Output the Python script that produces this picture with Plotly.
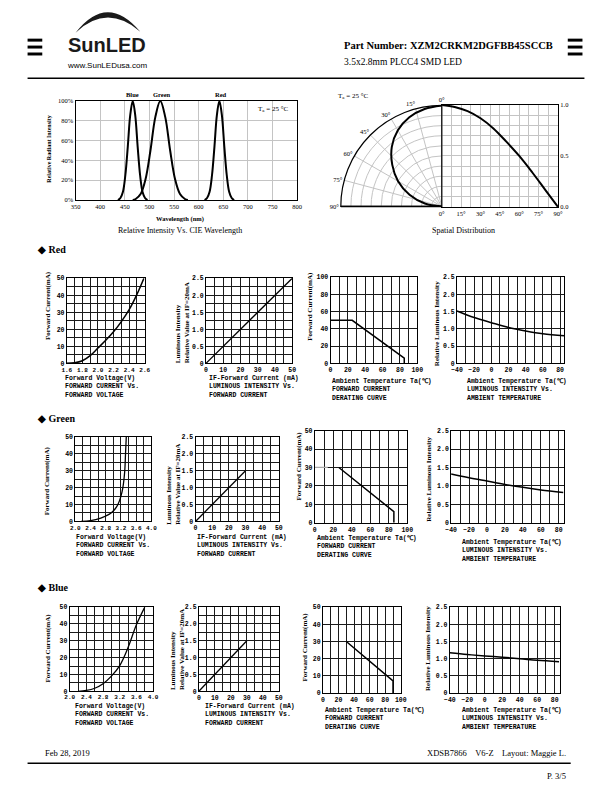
import plotly.graph_objects as go

W, H = 612, 792
def fx(p): return p / W
def fy(p): return 1 - p / H

SERIF = "Liberation Serif"
MONO = "Liberation Mono"
SANS = "Liberation Sans"

# ---------------- data ----------------
# Spectrum (relative radiant intensity, %)
wl_blue = [436, 441, 446, 451, 456, 461, 466, 471, 476, 481, 486, 491, 496]
int_blue = [0, 2, 8, 25, 54, 86, 100, 86, 54, 25, 8, 2, 0]
wl_green = [466, 472, 482, 492, 502, 512, 522, 532, 542, 552, 562, 572, 578]
int_green = [0, 1, 6, 21, 50, 84, 100, 84, 50, 21, 6, 1, 0]
wl_red = [612, 617, 622, 627, 632, 637, 642, 647, 652, 657, 662, 667, 672]
int_red = [0, 2, 8, 25, 54, 86, 100, 86, 54, 25, 8, 2, 0]

# Spatial distribution
sp_angle = [0, 10, 20, 30, 40, 50, 60, 70, 80, 90]
sp_int = [1.0, 0.98, 0.94, 0.87, 0.77, 0.64, 0.5, 0.34, 0.17, 0.0]

# Red
r_vf = [1.6, 1.7, 1.8, 1.9, 2.0, 2.1, 2.2, 2.3, 2.4, 2.5, 2.59]
r_if = [0, 0.3, 1.5, 4.5, 9, 13.5, 18.5, 24.5, 31.5, 40.5, 50]
r_lum_if = [0, 50]
r_lum = [0, 2.5]
r_der_t = [0, 25, 85, 85]
r_der_i = [50, 50, 6, 0]
r_tmp = [-40, -20, 0, 20, 40, 60, 85]
r_tmp_lum = [1.52, 1.33, 1.18, 1.04, 0.94, 0.86, 0.8]

# Green
g_vf = [2.15, 2.4, 2.67, 2.8, 2.94, 3.05, 3.12, 3.2, 3.25, 3.3, 3.32, 3.34]
g_if = [0, 0.5, 2, 3.2, 5, 7.5, 10, 15, 20, 30, 40, 50]
g_lum_if = [0, 30]
g_lum = [0, 1.5]
g_der_flat_t = [0, 14]
g_der_flat_i = [30, 30]
g_der_t = [26, 85.5, 85.5]
g_der_i = [30, 6, 0]
g_tmp = [-40, -20, 0, 20, 40, 60, 85]
g_tmp_lum = [1.32, 1.22, 1.13, 1.04, 0.96, 0.89, 0.82]

# Blue
b_vf = [2.2, 2.4, 2.6, 2.8, 3.0, 3.2, 3.4, 3.6, 3.8]
b_if = [0, 0.5, 1.8, 4.5, 9, 15.3, 26, 39.5, 50]
b_lum_if = [0, 30]
b_lum = [0, 1.5]
b_der_t = [30, 90, 90]
b_der_i = [30, 7, 0]
b_tmp = [-40, -20, 0, 20, 40, 60, 85]
b_tmp_lum = [1.17, 1.12, 1.08, 1.04, 1.0, 0.95, 0.91]

# tick labels
vf_red_ticks = [1.6, 1.8, 2.0, 2.2, 2.4, 2.6]
vf_gb_ticks = [2.0, 2.4, 2.8, 3.2, 3.6, 4.0]
if50_ticks = [0, 10, 20, 30, 40, 50]
if100_ticks = [0, 20, 40, 60, 80, 100]
lum_ticks = [0, 0.5, 1.0, 1.5, 2.0, 2.5]
lum_text = ["0", "0.5", "1.0", "1.5", "2.0", "2.5"]
tmp_ticks = [-40, -20, 0, 20, 40, 60, 80]
tmp_text = ["\u221240", "\u221220", "0", "20", "40", "60", "80"]
wl_ticks = [350, 400, 450, 500, 550, 600, 650, 700, 750, 800]
pct_ticks = [0, 20, 40, 60, 80, 100]
ang_ticks = [0, 15, 30, 45, 60, 75, 90]
ang_text = [f"{a}\u00b0" for a in ang_ticks]

# ---------------- figure ----------------
fig = go.Figure()
layout = dict(width=W, height=H, margin=dict(l=0, r=0, t=0, b=0),
              paper_bgcolor="white", plot_bgcolor="white", showlegend=False)

SMALL_TICK = dict(family=MONO, size=6.5, color="black", weight="bold")
NARROW_TICK = dict(family=MONO, size=6, color="black", weight="bold")
GRID = "#1a1a1a"
LGRID = "#c4c4c4"


def set_axes(n, xpx, ypx, xr, yr, xt, yt, xminor=None, yminor=None,
             grid=GRID, tickfont=SMALL_TICK, yside="left", lw=1, xfont=None):
    xa = dict(domain=[fx(xpx[0]), fx(xpx[1])], range=xr, anchor=f"y{n}",
              showline=True, mirror=True, linecolor="black", linewidth=lw,
              showgrid=True, gridcolor=grid, gridwidth=1, zeroline=False,
              tickmode="array", tickvals=xt[0], ticktext=xt[1], ticks="",
              tickfont=xfont or tickfont, fixedrange=True)
    ya = dict(domain=[fy(ypx[1]), fy(ypx[0])], range=yr, anchor=f"x{n}",
              showline=True, mirror=True, linecolor="black", linewidth=lw,
              showgrid=True, gridcolor=grid, gridwidth=1, zeroline=False,
              tickmode="array", tickvals=yt[0], ticktext=yt[1], ticks="",
              tickfont=tickfont, side=yside, fixedrange=True)
    if xminor:
        xa["minor"] = dict(tickmode="linear", tick0=xminor[0], dtick=xminor[1],
                           showgrid=True, gridcolor=grid, gridwidth=1, ticks="")
    if yminor:
        ya["minor"] = dict(tickmode="linear", tick0=yminor[0], dtick=yminor[1],
                           showgrid=True, gridcolor=grid, gridwidth=1, ticks="")
    key = "" if n == 1 else str(n)
    layout["xaxis" + key] = xa
    layout["yaxis" + key] = ya


def line(n, x, y, width=1.5, color="black", shape="linear"):
    fig.add_trace(go.Scatter(x=x, y=y, mode="lines", xaxis=f"x{n}", yaxis=f"y{n}",
                             line=dict(color=color, width=width, shape=shape),
                             hoverinfo="skip"))


# 1: spectrum
set_axes(1, (71, 297), (98, 198), [350, 800], [0, 100],
         (wl_ticks, [str(v) for v in wl_ticks]),
         (pct_ticks, [f"{v}%" for v in pct_ticks]),
         grid=LGRID, tickfont=dict(family=SERIF, size=6.5, color="black"), lw=1.2)
line(1, wl_blue, int_blue, 2, shape="spline")
line(1, wl_green, int_green, 2, shape="spline")
line(1, wl_red, int_red, 2, shape="spline")

# 2: spatial (cartesian part)
set_axes(2, (444.5, 563), (102, 205), [0, 90], [0, 1],
         (ang_ticks, ang_text), ([0, 0.5, 1.0], ["0.0", "0.5", "1.0"]),
         xminor=(0, 7.5), yminor=(0, 0.1), grid=LGRID,
         tickfont=dict(family=SERIF, size=6.5, color="black"), yside="right", lw=1.2)
line(2, sp_angle, sp_int, 2, shape="spline")

# polar part
layout["polar"] = dict(
    domain=dict(x=[fx(341.5), fx(444.5)], y=[fy(205), fy(102)]),
    sector=[90, 180], bgcolor="white", hole=0,
    radialaxis=dict(range=[0, 1], tickmode="linear", tick0=0, dtick=0.1,
                    showticklabels=False, ticks="", showline=True,
                    linecolor="black", linewidth=1.5, angle=180,
                    gridcolor=LGRID, gridwidth=1),
    angularaxis=dict(rotation=90, direction="counterclockwise", tickmode="array",
                     tickvals=ang_ticks, ticktext=ang_text, ticks="",
                     showline=True, linecolor="black", linewidth=1.2,
                     gridcolor=LGRID, gridwidth=1,
                     tickfont=dict(family=SERIF, size=6.5, color="black")))
fig.add_trace(go.Scatterpolar(r=sp_int, theta=sp_angle, mode="lines", subplot="polar",
                              line=dict(color="black", width=2, shape="spline"),
                              hoverinfo="skip"))

# Red row
set_axes(3, (62, 141.5), (277, 363), [1.6, 2.6], [0, 50],
         (vf_red_ticks, [f"{v:.1f}" for v in vf_red_ticks]),
         (if50_ticks, [str(v) for v in if50_ticks]), xminor=(0, 0.1), yminor=(0, 5),
         xfont=NARROW_TICK)
line(3, r_vf, r_if, 1.5, shape="spline")
set_axes(4, (204, 292), (277, 363), [0, 50], [0, 2.5],
         (if50_ticks, [str(v) for v in if50_ticks]), (lum_ticks, lum_text),
         xminor=(0, 5), yminor=(0, 0.25))
line(4, r_lum_if, r_lum, 1.3)
set_axes(5, (331, 419.5), (276, 363), [0, 100], [0, 100],
         (if100_ticks, [str(v) for v in if100_ticks]),
         (if100_ticks, [str(v) for v in if100_ticks]), xminor=(0, 10))
line(5, r_der_t, r_der_i, 1.5)
set_axes(6, (460, 569.5), (276, 363), [-40, 85], [0, 2.5],
         (tmp_ticks, tmp_text), (lum_ticks, lum_text), xminor=(0, 10))
line(6, r_tmp, r_tmp_lum, 1.5, shape="spline")

# Green row
set_axes(7, (70.7, 148.3), (437.3, 522.7), [2.0, 4.0], [0, 50],
         (vf_gb_ticks, [f"{v:.1f}" for v in vf_gb_ticks]),
         (if50_ticks, [str(v) for v in if50_ticks]), xminor=(0, 0.2), yminor=(0, 5),
         xfont=NARROW_TICK)
line(7, g_vf, g_if, 1.3, shape="spline")
set_axes(8, (193.3, 278.3), (437.3, 522.7), [0, 50], [0, 2.5],
         (if50_ticks, [str(v) for v in if50_ticks]), (lum_ticks, lum_text),
         xminor=(0, 5), yminor=(0, 0.25))
line(8, g_lum_if, g_lum, 1.3)
set_axes(9, (315, 409.3), (431, 524), [0, 100], [0, 50],
         (if100_ticks, [str(v) for v in if100_ticks]),
         (if50_ticks, [str(v) for v in if50_ticks]), xminor=(0, 10))
line(9, g_der_flat_t, g_der_flat_i, 1.3, color="#aaaaaa")
line(9, g_der_t, g_der_i, 1.5)
set_axes(10, (454, 569.3), (431, 524), [-40, 86], [0, 2.5],
         (tmp_ticks, tmp_text), (lum_ticks, lum_text), xminor=(0, 10))
line(10, g_tmp, g_tmp_lum, 1.5, shape="spline")

# Blue row
set_axes(11, (65, 150), (609.3, 694.3), [2.0, 4.0], [0, 50],
         (vf_gb_ticks, [f"{v:.1f}" for v in vf_gb_ticks]),
         (if50_ticks, [str(v) for v in if50_ticks]), xminor=(0, 0.2), yminor=(0, 5),
         xfont=NARROW_TICK)
line(11, b_vf, b_if, 1.3, shape="spline")
set_axes(12, (196.7, 278.3), (609.3, 694.3), [0, 50], [0, 2.5],
         (if50_ticks, [str(v) for v in if50_ticks]), (lum_ticks, lum_text),
         xminor=(0, 5), yminor=(0, 0.25))
line(12, b_lum_if, b_lum, 1.3)
set_axes(13, (323.3, 402.7), (609.3, 696), [0, 100], [0, 50],
         (if100_ticks, [str(v) for v in if100_ticks]),
         (if50_ticks, [str(v) for v in if50_ticks]), xminor=(0, 10))
line(13, b_der_t, b_der_i, 1.5)
set_axes(14, (452.7, 565), (609.3, 696), [-40, 86], [0, 2.5],
         (tmp_ticks, tmp_text), (lum_ticks, lum_text), xminor=(0, 10))
line(14, b_tmp, b_tmp_lum, 1.5, shape="spline")

# ---------------- annotations ----------------
anns = []


def ann(text, x, y, size=7, family=SERIF, xanchor="center", yanchor="middle",
        angle=0, align="center", color="#000000", weight="normal"):
    anns.append(dict(text=text, x=fx(x), y=fy(y), xref="paper", yref="paper",
                     showarrow=False, xanchor=xanchor, yanchor=yanchor,
                     textangle=angle, align=align,
                     font=dict(family=family, size=size, color=color, weight=weight)))


# header
ann("SunLED", 103, 41, 20, SANS, weight="bold", color="#1a1a1a")
ann("www.SunLEDusa.com", 103, 62, 8, SANS)
ann("Part Number: XZM2CRKM2DGFBB45SCCB", 343, 42, 10.5, SERIF, xanchor="left", weight="bold")
ann("3.5x2.8mm PLCC4 SMD LED", 343, 59, 9.5, SERIF, xanchor="left")

# spectrum
ann("Blue", 129, 91, 6.5, SERIF, weight="bold")
ann("Green", 159, 91, 6.5, SERIF, weight="bold")
ann("Red", 219, 91, 6.5, SERIF, weight="bold")
ann("T<sub>a</sub> = 25 \u00b0C", 272, 106, 7, SERIF)
ann("Relative Radiant Intensity", 43, 147, 6, SERIF, angle=-90, weight="bold")
ann("Wavelength (nm)", 177, 217, 6.5, SERIF, weight="bold")
ann("Relative Intensity Vs. CIE Wavelength", 177, 229, 8, SERIF)

# spatial
ann("T<sub>a</sub> = 25 \u00b0C", 354, 93, 7, SERIF)
ann("Spatial Distribution", 467, 229, 8, SERIF)

# section headings
ann("\u25c6 Red", 30, 248, 10, SERIF, xanchor="left", weight="bold")
ann("\u25c6 Green", 30, 419, 10, SERIF, xanchor="left", weight="bold")
ann("\u25c6 Blue", 30, 589, 10, SERIF, xanchor="left", weight="bold")

# y titles
YT = dict(size=7, family=SERIF, angle=-90, weight="bold")
ann("Forward Current(mA)", 43, 305, **YT)
ann("Luminous Intensity<br>Relative Value at IF=20mA", 180, 365, yanchor="bottom",
    align="left", **YT)
ann("Forward Current(mA)", 310, 305, **YT)
ann("Relative Luminous Intensity", 439, 323, **YT)

ann("Forward Current(mA)", 42, 482, **YT)
ann("Luminous Intensity<br>Relative Value at IF=20mA", 170, 528, yanchor="bottom",
    align="left", **YT)
ann("Forward Current(mA)", 299, 467, **YT)
ann("Relative Luminous Intensity", 432, 480, **YT)

ann("Forward Current(mA)", 43, 651, **YT)
ann("Luminous Intensity<br>Relative Value at IF=20mA", 175, 695, yanchor="bottom",
    align="left", **YT)
ann("Forward Current(mA)", 305, 650, **YT)
ann("Relative Luminous Intensity", 431, 651, **YT)

# caption blocks
CAP = dict(size=6.5, family=MONO, xanchor="left", yanchor="top", align="left", weight="bold")
cap_iv = "Forward Voltage(V)<br>FORWARD CURRENT Vs.<br>FORWARD VOLTAGE"
cap_li = "IF-Forward Current (mA)<br>LUMINOUS INTENSITY Vs.<br>FORWARD CURRENT"
cap_der = "Ambient Temperature Ta(\u2103)<br>FORWARD CURRENT<br>DERATING CURVE"
cap_lt = "Ambient Temperature Ta(\u2103)<br>LUMINOUS INTENSITY Vs.<br>AMBIENT TEMPERATURE"
ann(cap_iv, 58, 373, **CAP)
ann(cap_li, 205, 373, **CAP)
ann(cap_der, 330, 376, **CAP)
ann(cap_lt, 468, 376, **CAP)
ann(cap_iv, 69, 533, **CAP)
ann(cap_li, 193, 533, **CAP)
ann(cap_der, 315, 534, **CAP)
ann(cap_lt, 463, 538, **CAP)
ann(cap_iv, 68, 704, **CAP)
ann(cap_li, 201, 704, **CAP)
ann(cap_der, 323, 708, **CAP)
ann(cap_lt, 463, 708, **CAP)

# footer
ann("Feb 28, 2019", 38, 757, 8.5, SERIF, xanchor="left")
ann("XDSB7866&nbsp;&nbsp;&nbsp;&nbsp;V6-Z&nbsp;&nbsp;&nbsp;&nbsp;Layout: Maggie L.", 573, 757, 8.5,
    SERIF, xanchor="right")
ann("P. 3/5", 573, 780, 8.5, SERIF, xanchor="right")

layout["annotations"] = anns

# ---------------- shapes ----------------
shapes = []


def rect(x0, y0, x1, y1, color="black"):
    shapes.append(dict(type="rect", xref="paper", yref="paper",
                       x0=fx(x0), x1=fx(x1), y0=fy(y1), y1=fy(y0),
                       fillcolor=color, line=dict(width=0)))


def hline(y, x0, x1, w=1.5):
    shapes.append(dict(type="line", xref="paper", yref="paper",
                       x0=fx(x0), x1=fx(x1), y0=fy(y), y1=fy(y),
                       line=dict(color="black", width=w)))


for yb in (35, 42, 49):
    rect(22, yb, 37, yb + 3)
    rect(573, yb, 588, yb + 3)
hline(75, 22, 590)
hline(767, 22, 576)

# logo arc (crescent)
def P(x, y): return f"{fx(x):.5f},{fy(y):.5f}"
arc_path = (f"M {P(71, 29)} Q {P(103, -12)} {P(137, 28)} "
            f"Q {P(103, -1)} {P(71, 29)} Z")
shapes.append(dict(type="path", xref="paper", yref="paper", path=arc_path,
                   fillcolor="#1a1a1a", line=dict(width=0)))

layout["shapes"] = shapes
fig.update_layout(**layout)
fig.write_html("out.html", config={"displayModeBar": False},
               post_script="document.body.style.margin='0';document.body.style.padding='0';")
